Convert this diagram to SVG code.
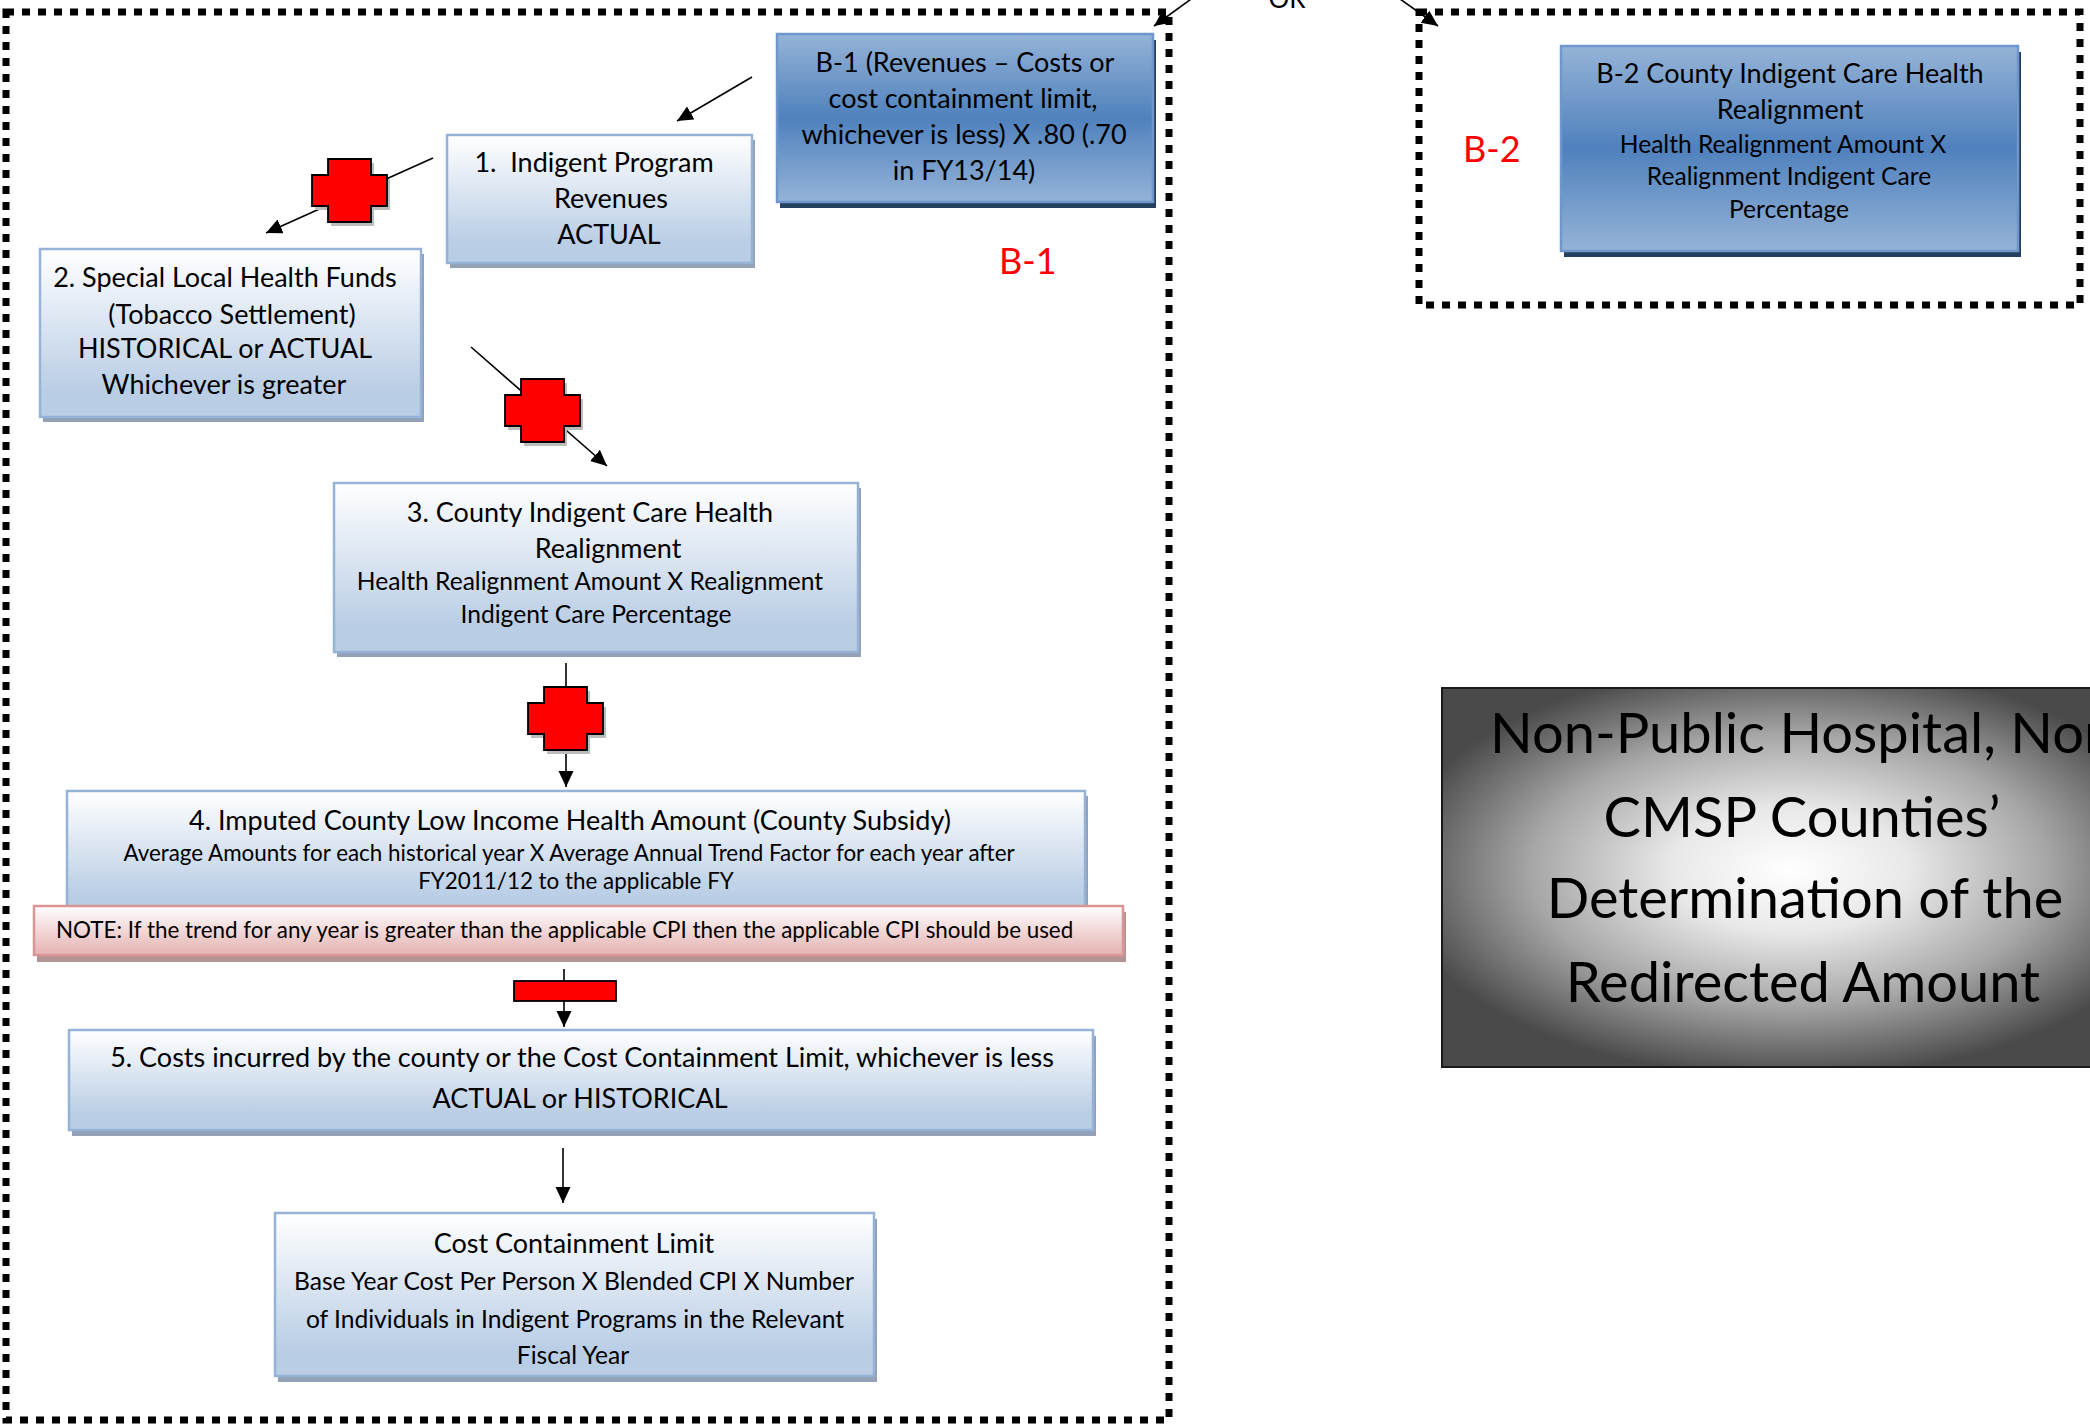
<svg xmlns="http://www.w3.org/2000/svg" xmlns:xlink="http://www.w3.org/1999/xlink" width="2090" height="1425" viewBox="0 0 2090 1425">
<style>
  text { font-family: Lato, "Liberation Sans", sans-serif; fill: #000; }
  .big { font-size: 27px; }
  .sm { font-size: 22.4px; }
  .sm2 { font-size: 24.6px; }
  .mid { text-anchor: middle; }
  .red { fill: #ff0000; font-size: 36px; }
  .title { font-size: 56px; text-anchor: middle; fill: #000; }
  .light { fill: url(#gLight); stroke: #95b3d7; stroke-width: 2.5; }
  .lshadow { fill: #93a1b6; }
  .blue { fill: url(#gBlue); stroke: #6f97cb; stroke-width: 2.5; }
  .bshadow { fill: #243f60; }
  .note { fill: url(#gNote); stroke: #d99694; stroke-width: 2.5; }
  .nshadow { fill: #b39393; }
  .dash { fill: none; stroke: #000; stroke-width: 7; stroke-dasharray: 8 8; }
  .conn { fill: none; stroke: #000; stroke-width: 1.6; marker-end: url(#arr); }
  .op { fill: #ff0000; stroke: #000; stroke-width: 1.8; }
  .opshadow { fill: #bdbdbd; }
</style>
<defs>
  <linearGradient id="gLight" x1="0" y1="0" x2="0" y2="1">
    <stop offset="0" stop-color="#ffffff"/>
    <stop offset="0.85" stop-color="#b9cde5"/>
    <stop offset="1" stop-color="#b9cde5"/>
  </linearGradient>
  <linearGradient id="gBlue" x1="0" y1="0" x2="0" y2="1">
    <stop offset="0" stop-color="#95b3d7"/>
    <stop offset="0.5" stop-color="#4f81bd"/>
    <stop offset="1" stop-color="#95b3d7"/>
  </linearGradient>
  <linearGradient id="gNote" x1="0" y1="0" x2="0" y2="1">
    <stop offset="0" stop-color="#ffffff"/>
    <stop offset="0.9" stop-color="#e6b9b8"/>
    <stop offset="1" stop-color="#e6b9b8"/>
  </linearGradient>
  <radialGradient id="gTitle" cx="0.48" cy="0.48" r="0.55">
    <stop offset="0" stop-color="#ffffff"/>
    <stop offset="0.3" stop-color="#e8e8e8"/>
    <stop offset="0.65" stop-color="#a6a6a6"/>
    <stop offset="1" stop-color="#4a4a4a"/>
  </radialGradient>
  <marker id="arr" markerUnits="userSpaceOnUse" markerWidth="17" markerHeight="16" refX="16" refY="7.5" orient="auto">
    <path d="M0,0 L16,7.5 L0,15 Z" fill="#000"/>
  </marker>
  <path id="plus" d="M16,0 H59 V16 H75 V47 H59 V63 H16 V47 H0 V16 H16 Z"/>
</defs>

<!-- group frames -->
<g id="frame-b1">
  <rect class="dash" x="6" y="12" width="1163" height="1408"/>
  <text class="red" x="999" y="274">B-1</text>
</g>
<g id="frame-b2">
  <rect class="dash" x="1419" y="12" width="661" height="293"/>
  <text class="red" x="1463" y="162">B-2</text>
</g>

<!-- connectors -->
<g id="connectors">
  <line class="conn" x1="1198" y1="-6" x2="1154" y2="26"/>
  <line class="conn" x1="1393" y1="-6" x2="1438" y2="26"/>
  <line class="conn" x1="752" y1="77" x2="677" y2="121"/>
  <line class="conn" x1="433" y1="158" x2="266" y2="233"/>
  <line class="conn" x1="471" y1="347" x2="607" y2="466"/>
  <line class="conn" x1="566" y1="663" x2="566" y2="787"/>
  <line class="conn" x1="564" y1="969" x2="564" y2="1027"/>
  <line class="conn" x1="563" y1="1148" x2="563" y2="1203"/>
  <text class="mid" x="1287" y="8" font-size="26">OR</text>
</g>

<!-- operators -->
<g id="op1">
  <use xlink:href="#plus" class="opshadow" transform="translate(315,163)"/>
  <use xlink:href="#plus" class="op" transform="translate(312,159)"/>
</g>
<g id="op2">
  <use xlink:href="#plus" class="opshadow" transform="translate(508,383)"/>
  <use xlink:href="#plus" class="op" transform="translate(505,379)"/>
</g>
<g id="op3">
  <use xlink:href="#plus" class="opshadow" transform="translate(531,691)"/>
  <use xlink:href="#plus" class="op" transform="translate(528,687)"/>
</g>
<g id="op4">
  <rect class="op" x="514" y="981" width="102" height="20"/>
</g>

<!-- nodes -->
<g id="node-b1">
  <rect class="bshadow" x="780" y="40" width="376" height="168"/>
  <rect class="blue" x="777" y="34" width="376" height="168"/>
  <text class="big mid" x="965" y="72">B-1 (Revenues – Costs or</text>
  <text class="big mid" x="963" y="108">cost containment limit,</text>
  <text class="big mid" x="964" y="144">whichever is less) X .80 (.70</text>
  <text class="big mid" x="964" y="180">in FY13/14)</text>
</g>

<g id="node-1">
  <rect class="lshadow" x="450" y="140" width="305" height="128"/>
  <rect class="light" x="447" y="135" width="305" height="128"/>
  <text class="big mid" x="594" y="172" xml:space="preserve">1.  Indigent Program</text>
  <text class="big mid" x="611" y="208">Revenues</text>
  <text class="big mid" x="609" y="244">ACTUAL</text>
</g>

<g id="node-2">
  <rect class="lshadow" x="43" y="254" width="381" height="168"/>
  <rect class="light" x="40" y="249" width="381" height="168"/>
  <text class="big mid" x="225" y="287">2. Special Local Health Funds</text>
  <text class="big mid" x="232" y="324">(Tobacco Settlement)</text>
  <text class="big mid" x="225" y="358">HISTORICAL or ACTUAL</text>
  <text class="big mid" x="224" y="394">Whichever is greater</text>
</g>

<g id="node-3">
  <rect class="lshadow" x="337" y="488" width="524" height="169"/>
  <rect class="light" x="334" y="483" width="524" height="169"/>
  <text class="big mid" x="590" y="522">3. County Indigent Care Health</text>
  <text class="big mid" x="608" y="558">Realignment</text>
  <text class="sm2 mid" x="590" y="590">Health Realignment Amount X Realignment</text>
  <text class="sm2 mid" x="596" y="623">Indigent Care Percentage</text>
</g>

<g id="node-4">
  <rect class="lshadow" x="70" y="796" width="1018" height="120"/>
  <rect class="light" x="67" y="791" width="1018" height="125"/>
  <text class="big mid" x="570" y="830">4. Imputed County Low Income Health Amount (County Subsidy)</text>
  <text class="sm mid" x="569" y="861">Average Amounts for each historical year X Average Annual Trend Factor for each year after</text>
  <text class="sm mid" x="576" y="889">FY2011/12 to the applicable FY</text>
</g>

<g id="note">
  <rect class="nshadow" x="37" y="912" width="1089" height="50"/>
  <rect class="note" x="34" y="906" width="1089" height="49"/>
  <text class="sm" x="56" y="938">NOTE: If the trend for any year is greater than the applicable CPI then the applicable CPI should be used</text>
</g>

<g id="node-5">
  <rect class="lshadow" x="72" y="1036" width="1024" height="100"/>
  <rect class="light" x="69" y="1030" width="1024" height="100"/>
  <text class="big mid" x="582" y="1067">5. Costs incurred by the county or the Cost Containment Limit, whichever is less</text>
  <text class="big mid" x="580" y="1108">ACTUAL or HISTORICAL</text>
</g>

<g id="node-ccl">
  <rect class="lshadow" x="278" y="1219" width="599" height="163"/>
  <rect class="light" x="275" y="1213" width="599" height="163"/>
  <text class="big mid" x="574" y="1253">Cost Containment Limit</text>
  <text class="sm2 mid" x="574" y="1290">Base Year Cost Per Person X Blended CPI X Number</text>
  <text class="sm2 mid" x="575" y="1328">of Individuals in Indigent Programs in the Relevant</text>
  <text class="sm2 mid" x="573" y="1364">Fiscal Year</text>
</g>

<g id="node-b2">
  <rect class="bshadow" x="1564" y="52" width="457" height="205"/>
  <rect class="blue" x="1561" y="46" width="457" height="205"/>
  <text class="big mid" x="1790" y="83">B-2 County Indigent Care Health</text>
  <text class="big mid" x="1790" y="119">Realignment</text>
  <text class="sm2 mid" x="1783" y="153">Health Realignment Amount X</text>
  <text class="sm2 mid" x="1789" y="185">Realignment Indigent Care</text>
  <text class="sm2 mid" x="1789" y="218">Percentage</text>
</g>

<g id="title">
  <rect x="1442" y="688" width="724" height="379" fill="url(#gTitle)" stroke="#1a1a1a" stroke-width="2"/>
  <text class="title" x="1490" y="753" style="text-anchor:start">Non-Public Hospital, Non-</text>
  <text class="title" x="1802" y="837">CMSP Counties’</text>
  <text class="title" x="1805" y="918">Determination of the</text>
  <text class="title" x="1803" y="1002">Redirected Amount</text>
</g>
</svg>
